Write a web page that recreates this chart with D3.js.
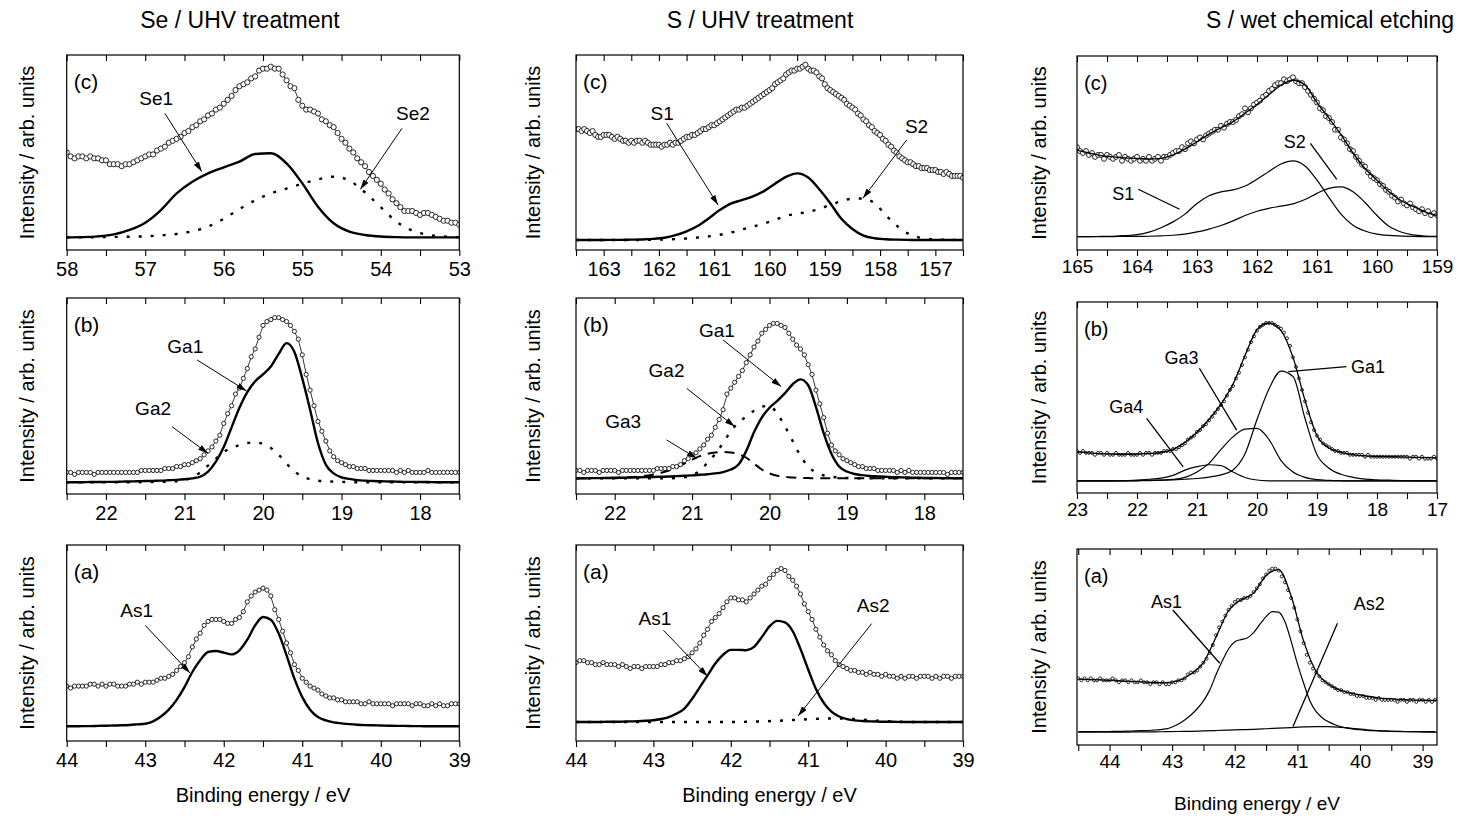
<!DOCTYPE html>
<html>
<head>
<meta charset="utf-8">
<script src="https://cdn.jsdelivr.net/npm/d3@7"></script>
<style>
  body { margin: 0; background: #fff; }
  svg text { font-family: "Liberation Sans", Arial, Helvetica, sans-serif; fill: #000; }
</style>
</head>
<body>
<svg id="chart" width="1459" height="819"></svg>
<script>
// ---------- texts
const columnTitles = ["Se / UHV treatment", "S / UHV treatment", "S / wet chemical etching"];
const yTitle = "Intensity / arb. units";
const xTitle = "Binding energy / eV";

// ---------- tick labels (eV)
const c1cTicks = [58, 57, 56, 55, 54, 53];
const c2cTicks = [163, 162, 161, 160, 159, 158, 157];
const c3cTicks = [165, 164, 163, 162, 161, 160, 159];
const gaTicks = [22, 21, 20, 19, 18];
const c3bTicks = [23, 22, 21, 20, 19, 18, 17];
const asTicks = [44, 43, 42, 41, 40, 39];

// ---------- Se / UHV : (c) Se 3d, measured every 0.05 eV from 58 eV
const c1cData = [50,48,47,48,48,47,48,47,47,46, 46,44,44,44,43,44,44,45,46,47,
  48,49,49,51,52,53,55,56,57,58, 60,61,63,64,66,67,69,70,72,73,
  75,77,79,82,84,85,86,88,89,92, 93,93,94,93,93,90,87,84,83,77,
  74,72,72,71,70,67,66,64,63,60, 57,55,52,50,47,45,43,40,38,36,
  34,31,29,26,24,22,20,20,20,19, 18,19,19,18,17,16,15,15,14,14, 13];
// components every 0.2 eV from 58 eV
const c1cSe1 = [6.5,6.6,7.0,8.0,10.3,14,20.5,29,35,39.3, 42.4,45.3,49.2,49.6,44.4,34.2,22.2,13.7,9.4,7.7, 6.9,6.6,6.5,6.5,6.5,6.5];
const c1cSe2 = [6.5,6.5,6.6,6.7,6.8,7.0,7.5,8.2,9.6,12, 16,21,25.5,29,31.5,34,36.2,37.6,35.6,29.5, 22,14.5,10,7.8,6.9,6.6];

// (b) Ga 3d, data every 0.05 eV from 22.5 eV, components every 0.1 eV
const c1bData = [11,11,10,11,11,11,11,10,11,11, 11,11,11,11,11,11,11,11,11,12,
  12,12,12,12,12,13,13,13,14,14, 15,15,16,17,18,20,22,24,27,30,
  36,41,45,51,54,59,64,70,74,80, 86,88,89,90,90,89,88,86,83,79,
  71,61,53,45,37,32,27,22,19,17, 16,15,14,14,13,13,13,12,12,12,
  12,12,12,12,11,12,11,12,11,11, 11,11,12,11,11,11,11,11,11,11, 11];
const c1bGa1 = [6.0,6.0,6.0,6.1,6.1,6.2,6.2,6.3,6.4,6.5, 6.6,6.7,6.8,7.0,7.2,7.5,8.0,8.8,11.4,16.5,
  24,34,44,52,57.5,61,65,71.5,77,72.5, 59,43,26,15,10.5,8.5,7.7,7.1,6.8,6.6,
  6.5,6.4,6.3,6.2,6.2,6.1,6.1,6.0,6.0,6.0, 6.0];
const c1bGa2 = [6.0,6.0,6.0,6.0,6.0,6.0,6.0,6.0,6.0,6.0, 6.1,6.1,6.2,6.3,6.5,7.0,8.5,11,14.5,18,
  21.5,23.5,25,26,26.3,25.5,23.5,20,15.5,11.5, 9,7.5,6.8,6.5,6.3,6.2,6.1,6.0,6.0,6.0,
  6.0,6.0,6.0,6.0,6.0,6.0,6.0,6.0,6.0,6.0, 6.0];

// (a) As 3d, data every 0.05 eV from 44 eV, component every 0.1 eV
const c1aData = [28,27,28,28,28,28,29,29,28,29, 28,29,29,28,28,28,29,29,30,29,
  30,30,30,31,32,32,33,34,36,38, 40,43,48,52,55,59,61,62,62,62,
  61,60,60,62,63,66,71,74,76,77, 78,77,74,67,62,56,50,45,39,36,
  32,30,28,27,26,24,23,22,22,21, 21,20,20,20,20,19,19,20,19,19,
  19,19,19,18,19,19,19,19,18,19, 19,18,18,19,18,19,18,18,19,19, 19];
const c1aAs1 = [7.5,7.5,7.6,7.6,7.7,7.8,7.9,8.0,8.2,8.5, 8.8,10,12.5,16,21,27.5,35.2,41.2,45.4,45.9,
  45.1,44.2,46.3,51.7,59,63.3,61.9,54.8,43.7,31.8, 22.4,16,12.2,10.5,9.5,9.0,8.6,8.3,8.1,8.0,
  7.9,7.8,7.7,7.7,7.6,7.6,7.5,7.5,7.5,7.5, 7.5];

// ---------- S / UHV : (c) S 2p, data every 0.05 eV from 163.5 eV, components every 0.2 eV
const c2cData = [62,62,61,62,61,60,61,59,58,58, 59,59,59,58,57,58,57,56,56,55,
  56,55,56,56,55,56,55,54,54,54, 54,53,54,54,55,54,55,55,56,57,
  58,58,59,59,60,61,62,62,63,64, 64,65,66,67,68,69,70,71,72,72,
  73,73,74,75,76,77,78,79,80,81, 82,83,85,86,87,88,90,91,92,92,
  93,93,94,95,93,92,92,91,89,88, 85,83,82,81,80,79,78,77,75,74,
  73,72,70,69,67,66,64,63,61,60, 59,57,56,54,53,51,50,48,47,46,
  45,45,44,43,43,42,42,42,41,41, 41,40,40,39,40,39,38,38,38,38, 37];
const c2cS1 = [5.1,5.1,5.1,5.2,5.2,5.3,5.4,5.7,6.3,7.6, 9.6,12.3,16.2,20.5,23.8,25.6,27.5,30.2,34,37.5,
  39.3,37.2,31.2,24,16,10.8,7.4,6.0,5.5,5.3, 5.2,5.1,5.1,5.1,5.1,5.1];
const c2cS2 = [5.1,5.1,5.1,5.1,5.1,5.1,5.2,5.3,5.4,5.6, 5.9,6.4,7.0,7.8,9.0,10.5,12.0,13.5,15.5,17.5,
  18.6,19.6,21,23.2,25,26.3,26.4,24,18,12.5, 8.5,6.5,5.6,5.3,5.2,5.1];

// (b) Ga 3d, data every 0.05 eV from 22.5 eV, components every 0.1 eV
const c2bData = [12,12,11,12,12,12,11,12,12,12, 12,11,12,12,12,12,12,12,12,12,
  12,13,13,13,13,14,14,15,17,18, 20,21,23,25,28,30,34,38,43,51,
  54,57,60,63,67,71,75,78,82,84, 86,87,87,86,85,82,79,76,74,71,
  66,61,53,46,39,31,25,22,20,18, 17,16,15,14,14,13,13,13,12,12,
  12,12,12,11,12,11,12,11,11,11, 11,11,11,11,11,11,10,11,11,11, 11];
const c2bGa1 = [8.0,8.0,8.1,8.1,8.2,8.2,8.3,8.4,8.5,8.6, 8.7,8.8,8.9,9.1,9.3,9.5,9.8,10.1,10.5,11.2,
  12.5,15,22,31.5,39,44,47.5,51.5,56,58.5, 55.5,44.5,31,20.5,14,11.5,10.2,9.6,9.2,9.0,
  8.8,8.6,8.5,8.4,8.3,8.2,8.2,8.1,8.1,8.0, 8.0];
const c2bGa2 = [8.0,8.0,8.0,8.0,8.0,8.0,8.0,8.0,8.0,8.0, 8.0,8.0,8.0,8.2,8.5,9.5,12,16,20.5,26,
  32,36.5,39.5,42.5,44.5,45,41,34.5,27,19.5, 14,11,9.5,8.8,8.4,8.2,8.1,8.0,8.0,8.0,
  8.0,8.0,8.0,8.0,8.0,8.0,8.0,8.0,8.0,8.0, 8.0];
const c2bGa3 = [8.0,8.0,8.1,8.1,8.2,8.3,8.4,8.6,8.9,9.3, 10,10.8,12,13.5,15.5,17.5,19.3,20.5,21.2,21.5,
  21.2,20.3,18.5,15.5,12.5,10.5,9.3,8.7,8.4,8.2, 8.1,8.0,8.0,8.0,8.0,8.0,8.0,8.0,8.0,8.0,
  8.0,8.0,8.0,8.0,8.0,8.0,8.0,8.0,8.0,8.0, 8.0];

// (a) As 3d, data every 0.05 eV from 44 eV, As1 every 0.1 eV, As2 every 0.2 eV
const c2aData = [40,41,41,40,40,39,39,40,39,39, 39,38,39,38,37,38,38,37,38,38,
  38,38,39,39,40,40,41,41,42,43, 45,47,50,54,57,61,63,65,68,71,
  73,73,72,72,71,73,75,77,79,80, 83,85,87,88,87,84,82,79,75,70,
  66,62,57,53,49,46,44,41,39,38, 37,36,36,35,35,34,35,34,34,33,
  34,33,33,32,33,32,33,33,32,33, 33,33,32,33,32,33,33,32,33,33, 33];
const c2aAs1 = [9.7,9.7,9.7,9.7,9.8,9.8,9.9,10.0,10.1,10.3, 10.6,11.2,12.2,14,16.5,21.5,27.5,33.5,39.5,44,
  46.5,46.5,46.3,48,53,58.5,61.3,60.5,56,47, 36.5,26.5,19.5,15,12.5,11.2,10.5,10.2,10.0,9.9,
  9.8,9.8,9.7,9.7,9.7,9.7,9.7,9.7,9.7,9.7, 9.7];
const c2aAs2 = [9.7,9.7,9.7,9.7,9.7,9.7,9.7,9.7,9.7,9.7, 9.7,9.8,10.0,10.3,10.7,11.1,11.4,11.5,11.2,10.6,
  10.1,9.8,9.7,9.7,9.7,9.7];

// ---------- S / wet chemical etching : (c) S 2p, data every 0.05 eV from 165 eV, fit + components every 0.2 eV
const c3cData = [53,51,50,51,49,50,48,49,49,47, 49,48,47,48,49,46,48,47,46,47,
  48,46,47,46,48,46,47,48,46,48, 48,49,50,51,51,53,52,55,56,55,
  57,58,57,59,60,61,62,62,64,63, 65,66,66,67,69,70,73,71,73,75,
  76,77,79,80,82,83,85,86,86,88, 87,88,89,87,86,86,84,82,80,78,
  76,73,72,69,68,66,62,62,58,57, 55,52,51,48,46,44,43,40,38,37,
  36,34,33,31,30,28,27,25,26,24, 23,24,22,21,20,21,19,20,18,19, 18];
const c3cFit = [51.5,50,48.7,48,47.5,47.2,46.8,47.2,49,52, 55.8,59.7,63,66.2,70.5,75,80,85,87.5,85,
  76,68,59.5,50,42,36,30,25.5,22.5,19.7, 17.8];
const c3cS1 = [6.9,6.9,7.0,7.1,7.4,7.9,9.2,11.5,14.5,18.5, 24,28,30,31,33,36.5,40.5,44.3,45.9,43.3,
  36,27,18.5,12.8,9.8,8.2,7.5,7.2,7.0,6.9, 6.9];
const c3cS2 = [6.9,6.9,6.9,6.9,7.0,7.0,7.1,7.3,7.6,8.2, 9.3,10.8,12.6,15,17.8,20,21.5,22.6,23.8,26,
  29.2,31.8,32.5,30,24.5,17.8,12.2,9.3,7.8,7.2, 7.0];

// (b) Ga 3d, data every 0.05 eV from 23 eV, fit + components every 0.2 eV
const c3bData = [22,21,22,21,21,21,20,21,21,20, 21,20,20,21,20,20,20,21,20,20,
  20,21,20,21,21,20,21,21,21,22, 22,22,23,23,24,25,26,28,29,30,
  32,33,35,36,38,40,42,44,46,48, 51,54,56,60,63,67,71,75,79,82,
  85,87,88,89,89,89,88,87,86,84, 81,77,71,66,60,54,48,42,37,33,
  30,28,26,25,24,23,22,22,21,21, 21,20,20,20,20,20,19,20,19,19,
  19,19,19,19,19,19,19,19,19,19, 19,18,19,19,18,19,18,18,18,19, 18];
const c3bFit = [21.5,21,20.6,20.4,20.3,20.4,20.7,21.2,22.8,26.5, 31.8,38.5,46.5,57,72,85.5,89,85,71,48.5,
  30,23.6,21.3,20.1,19.4,19.1,19.0,18.9,18.7,18.5, 18.4];
const c3bGa1 = [6.3,6.3,6.3,6.4,6.4,6.5,6.6,6.7,6.9,7.2, 7.6,8.3,9.5,12,20.5,38.5,54.5,63.8,61,39,
  20,13,9.8,8.2,7.3,6.9,6.7,6.5,6.4,6.3, 6.3];
const c3bGa3 = [6.3,6.3,6.3,6.3,6.3,6.4,6.5,6.7,7.1,8.2, 11,15.5,22.8,29.4,33.4,33.8,28,17,11,8.2,
  7.0,6.6,6.4,6.3,6.3,6.3,6.3,6.3,6.3,6.3, 6.3];
const c3bGa4 = [6.3,6.3,6.3,6.4,6.5,6.8,7.2,7.8,9.2,12, 13.8,14.8,14.3,11,8.1,6.8,6.4,6.3,6.3,6.3,
  6.3,6.3,6.3,6.3,6.3,6.3,6.3,6.3,6.3,6.3, 6.3];

// (a) As 3d, data every 0.05 eV from 44.5 eV, fit + As2 every 0.2 eV, As1 every 0.1 eV
const c3aData = [34,33,34,33,34,33,33,34,33,33, 33,34,33,32,33,33,32,33,32,32,
  33,32,32,31,32,32,31,32,31,31, 32,32,33,33,34,36,37,37,38,40,
  42,44,47,51,56,60,63,66,69,71, 73,74,74,75,75,76,78,80,82,85,
  87,89,90,90,89,86,83,79,75,70, 64,58,52,46,42,39,37,35,33,32,
  31,30,29,28,28,27,27,26,26,25, 25,25,24,24,24,23,24,23,23,23,
  23,23,22,23,23,22,23,23,22,23, 23,22,23,22,23];
const c3aFit = [33.6,33.4,33.1,32.8,32.5,32.2,31.9,31.8,32.8,36.2, 42,55,68.5,74,77.5,86.5,89.5,76,53,37.5,
  31,27.8,26.2,25,24,23.5,23.1,22.9,22.8,22.7];
const c3aAs1 = [6.8,6.8,6.8,6.9,6.9,6.9,7.0,7.0,7.1,7.2, 7.3,7.4,7.6,7.8,8.2,9.2,10.7,12.8,15.3,18.5,
  22.5,28,35.8,42.8,49,52.7,53.8,54.6,57.3,61.5, 65.5,68,67.8,63,53,41.5,31.5,22.5,17,13.8,
  11.8,10.3,9.3,8.6,8.1,7.8,7.5,7.3,7.2,7.1, 7.0,7.0,6.9,6.9,6.9,6.8,6.8,6.8];
const c3aAs2 = [6.6,6.6,6.6,6.6,6.6,6.7,6.7,6.8,6.9,7.0, 7.2,7.4,7.6,7.8,8.0,8.3,8.6,8.9,9.2,9.4,
  9.4,9.0,8.4,7.8,7.3,7.0,6.8,6.7,6.6,6.6];

// ---------- peak labels: [text, label energy, label level, from energy, from level, to energy, to level]
const c1cNotes = [["Se1", 56.86, 77.8, 56.75, 70.1, 56.28, 40.2], ["Se2", 53.59, 70.1, 53.73, 62.4, 54.26, 31.1]];
const c1bNotes = [["Ga1", 20.99, 75.2, 20.84, 68.4, 20.21, 52.6], ["Ga2", 21.40, 43.7, 21.16, 34.4, 20.70, 20.7]];
const c1aNotes = [["As1", 43.11, 66.7, 43.00, 59, 42.43, 34.7]];
const c2cNotes = [["S1", 161.94, 70.1, 161.86, 65, 160.93, 23.1], ["S2", 157.34, 63.2, 157.52, 56.4, 158.31, 26.5]];
const c2bNotes = [["Ga1", 20.68, 83.7, 20.60, 78.6, 19.85, 54.8], ["Ga2", 21.33, 63.3, 21.07, 53.9, 20.45, 34.4],
  ["Ga3", 21.89, 36.9, 21.33, 27.6, 20.94, 18.2]];
const c2aNotes = [["As1", 42.98, 62.4, 42.87, 56.5, 42.30, 33], ["As2", 40.16, 69.2, 40.18, 59.9, 41.13, 12.8]];
const c3cNotes = [["S1", 164.23, 29.2, 163.98, 31.3, 163.29, 21], ["S2", 161.37, 55.8, 161.11, 55, 160.67, 36.4]];
const c3bNotes = [["Ga4", 22.18, 45.2, 21.84, 39.1, 21.23, 13.7], ["Ga3", 21.26, 70.6, 20.96, 65.3, 20.34, 32.9],
  ["Ga1", 18.15, 66.2, 18.51, 66.2, 19.48, 63.6]];
const c3aNotes = [["As1", 43.09, 73.1, 42.99, 68.9, 42.24, 41.7], ["As2", 39.85, 72.3, 40.36, 62.1, 41.07, 9.4]];

// ---------- layout
const colX = [[66.7, 459.3], [576, 963], [1077, 1437]];
const titleX = [240, 760, 1330];
const yTitleX = [27, 533, 1039];

const panels = [
  {key: "c1c", col: 0, y0: 55, y1: 250, domain: [58, 53], ticks: c1cTicks, letter: "(c)",
   data: c1cData, start: 58, r: 2.6, notes: c1cNotes, arrows: true,
   series: [{v: c1cSe1, s: 58, d: 0.2, st: "thick"}, {v: c1cSe2, s: 58, d: 0.2, st: "dotted"}]},
  {key: "c1b", col: 0, y0: 298, y1: 494, domain: [22.5, 17.5], ticks: gaTicks, letter: "(b)",
   data: c1bData, start: 22.5, r: 2.1, notes: c1bNotes, arrows: true,
   series: [{v: c1bGa1, s: 22.5, d: 0.1, st: "thick"}, {v: c1bGa2, s: 22.5, d: 0.1, st: "dotted"}]},
  {key: "c1a", col: 0, y0: 545, y1: 741, domain: [44, 39], ticks: asTicks, letter: "(a)", xlabel: true,
   data: c1aData, start: 44, r: 2.1, notes: c1aNotes, arrows: true,
   series: [{v: c1aAs1, s: 44, d: 0.1, st: "thick"}]},
  {key: "c2c", col: 1, y0: 55, y1: 250, domain: [163.5, 156.5], ticks: c2cTicks, letter: "(c)",
   data: c2cData, start: 163.5, r: 2.6, notes: c2cNotes, arrows: true,
   series: [{v: c2cS1, s: 163.5, d: 0.2, st: "thick"}, {v: c2cS2, s: 163.5, d: 0.2, st: "dotted"}]},
  {key: "c2b", col: 1, y0: 298, y1: 494, domain: [22.5, 17.5], ticks: gaTicks, letter: "(b)",
   data: c2bData, start: 22.5, r: 2.1, notes: c2bNotes, arrows: true,
   series: [{v: c2bGa1, s: 22.5, d: 0.1, st: "thick"}, {v: c2bGa2, s: 22.5, d: 0.1, st: "dotted"},
            {v: c2bGa3, s: 22.5, d: 0.1, st: "dashed"}]},
  {key: "c2a", col: 1, y0: 545, y1: 741, domain: [44, 39], ticks: asTicks, letter: "(a)", xlabel: true,
   data: c2aData, start: 44, r: 2.1, notes: c2aNotes, arrows: true,
   series: [{v: c2aAs1, s: 44, d: 0.1, st: "thick"}, {v: c2aAs2, s: 44, d: 0.2, st: "dotted"}]},
  {key: "c3c", col: 2, y0: 56, y1: 250, domain: [165, 159], ticks: c3cTicks, letter: "(c)",
   data: c3cData, start: 165, r: 2.5, notes: c3cNotes, arrows: false, fit: {v: c3cFit, s: 165, d: 0.2},
   series: [{v: c3cS1, s: 165, d: 0.2, st: "thin"}, {v: c3cS2, s: 165, d: 0.2, st: "thin"}]},
  {key: "c3b", col: 2, y0: 302, y1: 493, domain: [23, 17], ticks: c3bTicks, letter: "(b)",
   data: c3bData, start: 23, r: 1.5, notes: c3bNotes, arrows: false, fit: {v: c3bFit, s: 23, d: 0.2},
   series: [{v: c3bGa1, s: 23, d: 0.2, st: "thin"}, {v: c3bGa3, s: 23, d: 0.2, st: "thin"},
            {v: c3bGa4, s: 23, d: 0.2, st: "thin"}]},
  {key: "c3a", col: 2, y0: 549, y1: 745, domain: [44.52, 38.77], ticks: asTicks, letter: "(a)", xlabel: true,
   data: c3aData, start: 44.5, r: 1.5, notes: c3aNotes, arrows: false, fit: {v: c3aFit, s: 44.5, d: 0.2},
   series: [{v: c3aAs1, s: 44.5, d: 0.1, st: "thin"}, {v: c3aAs2, s: 44.5, d: 0.2, st: "thin"}]}
];

const lineStyles = {
  thick: {w: 2.4, dash: null},
  dotted: {w: 2.4, dash: "3,9"},
  dashed: {w: 2, dash: "10,7"},
  thin: {w: 1.2, dash: null}
};

const svg = d3.select("#chart");
const defs = svg.append("defs");
defs.append("marker")
  .attr("id", "arrow")
  .attr("viewBox", "0 0 10 6")
  .attr("refX", 10).attr("refY", 3)
  .attr("markerWidth", 10).attr("markerHeight", 6)
  .attr("markerUnits", "userSpaceOnUse")
  .attr("orient", "auto")
  .append("path").attr("d", "M0,0L10,3L0,6Z").attr("fill", "#000");

// column titles
svg.selectAll("text.coltitle")
  .data(columnTitles)
  .join("text")
  .attr("class", "coltitle")
  .attr("x", (d, i) => titleX[i])
  .attr("y", 28)
  .attr("text-anchor", "middle")
  .attr("font-size", "23px")
  .text(d => d);

function toPoints(values, start, step) {
  return values.map((v, i) => [start - i * step, v]);
}

panels.forEach(p => {
  const [x0, x1] = colX[p.col];
  const small = p.col === 2;
  const x = d3.scaleLinear().domain(p.domain).range([x0, x1]);
  const y = d3.scaleLinear().domain([0, 100]).range([p.y1, p.y0]);
  const g = svg.append("g");

  defs.append("clipPath").attr("id", "clip-" + p.key)
    .append("rect").attr("x", x0).attr("y", p.y0).attr("width", x1 - x0).attr("height", p.y1 - p.y0);
  const plot = g.append("g").attr("clip-path", `url(#clip-${p.key})`);

  const smooth = d3.line().x(d => x(d[0])).y(d => y(d[1])).curve(d3.curveMonotoneX);

  // fitted components
  p.series.forEach(s => {
    const st = lineStyles[s.st];
    plot.append("path")
      .attr("d", smooth(toPoints(s.v, s.s, s.d)))
      .attr("fill", "none")
      .attr("stroke", "#000")
      .attr("stroke-width", st.w)
      .attr("stroke-dasharray", st.dash);
  });

  // measured points
  const pts = toPoints(p.data, p.start, 0.05);
  if (!p.fit) {
    plot.append("path")
      .attr("d", d3.line().x(d => x(d[0])).y(d => y(d[1])).curve(d3.curveBasis)(pts))
      .attr("fill", "none").attr("stroke", "#000").attr("stroke-width", 0.8);
  }
  plot.selectAll("circle")
    .data(pts)
    .join("circle")
    .attr("cx", d => x(d[0]))
    .attr("cy", d => y(d[1]))
    .attr("r", p.r)
    .attr("fill", "#fff")
    .attr("stroke", "#111")
    .attr("stroke-width", 0.9);
  if (p.fit) {
    plot.append("path")
      .attr("d", smooth(toPoints(p.fit.v, p.fit.s, p.fit.d)))
      .attr("fill", "none").attr("stroke", "#000").attr("stroke-width", 1.3);
  }

  // frame
  g.append("rect")
    .attr("x", x0).attr("y", p.y0)
    .attr("width", x1 - x0).attr("height", p.y1 - p.y0)
    .attr("fill", "none").attr("stroke", "#000").attr("stroke-width", 1.2);

  // ticks every 0.5 eV, labels on whole eV
  const lo = Math.min(...p.domain), hi = Math.max(...p.domain);
  const halfTicks = d3.range(Math.ceil(lo * 2), Math.floor(hi * 2) + 1).map(k => k / 2);
  const fs = small ? 19 : 20;

  const bottom = g.append("g")
    .attr("transform", `translate(0,${p.y1})`)
    .call(d3.axisBottom(x).tickValues(halfTicks).tickSize(6).tickPadding(small ? 4 : 6)
      .tickFormat(d => p.ticks.includes(d) ? d : ""));
  bottom.select(".domain").remove();
  bottom.selectAll("line").attr("stroke", "#000").attr("stroke-width", 1.1);
  bottom.selectAll("text").attr("font-size", fs + "px")
    .attr("font-family", "'Liberation Sans', Arial, sans-serif").attr("fill", "#000");

  const top = g.append("g")
    .attr("transform", `translate(0,${p.y0})`)
    .call(d3.axisTop(x).tickValues(halfTicks).tickSize(-6).tickFormat(""));
  top.select(".domain").remove();
  top.selectAll("line").attr("stroke", "#000").attr("stroke-width", 1.1);

  // panel letter
  g.append("text")
    .attr("x", x0 + 7)
    .attr("y", p.y0 + 27)
    .attr("dy", "0.35em")
    .attr("font-size", (small ? 20 : 21) + "px")
    .text(p.letter);

  // y title
  g.append("text")
    .attr("transform", `translate(${yTitleX[p.col]},${(p.y0 + p.y1) / 2}) rotate(-90)`)
    .attr("text-anchor", "middle")
    .attr("dy", "0.35em")
    .attr("font-size", "20px")
    .text(yTitle);

  // x title
  if (p.xlabel) {
    g.append("text")
      .attr("x", (x0 + x1) / 2)
      .attr("y", small ? 803 : 795)
      .attr("dy", "0.35em")
      .attr("text-anchor", "middle")
      .attr("font-size", (small ? 19 : 20) + "px")
      .text(xTitle);
  }

  // peak labels with leader lines
  p.notes.forEach(n => {
    g.append("text")
      .attr("x", x(n[1])).attr("y", y(n[2]))
      .attr("dy", "0.35em")
      .attr("text-anchor", "middle")
      .attr("font-size", (small ? 18 : 19) + "px")
      .text(n[0]);
    const ln = g.append("line")
      .attr("x1", x(n[3])).attr("y1", y(n[4]))
      .attr("x2", x(n[5])).attr("y2", y(n[6]))
      .attr("stroke", "#000")
      .attr("stroke-width", small ? 1.3 : 1);
    if (p.arrows) ln.attr("marker-end", "url(#arrow)");
  });
});
</script>
</body>
</html>
